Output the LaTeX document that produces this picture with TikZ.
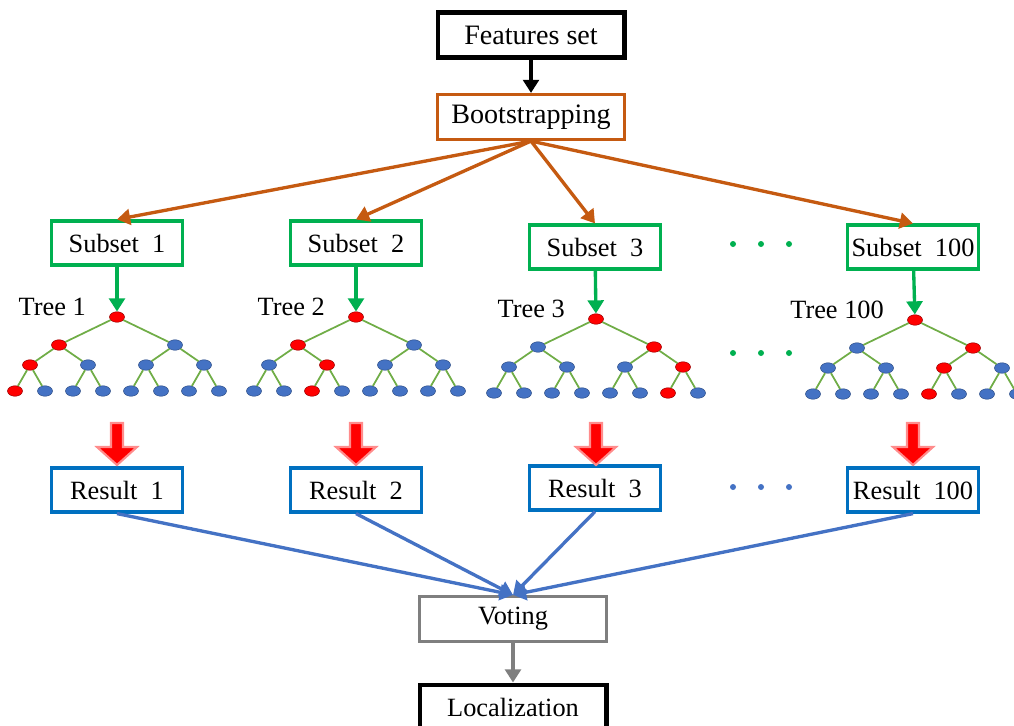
\documentclass[tikz,border=0pt]{standalone}
\usepackage{xcolor}
\usepackage{fontspec}
\setmainfont{Liberation Serif}
\usepackage{tikz}
\usetikzlibrary{shapes.geometric, arrows.meta, positioning, calc}

\definecolor{bootorange}{HTML}{C55A11}
\definecolor{subgreen}{HTML}{00B050}
\definecolor{resblue}{HTML}{0070C0}
\definecolor{nodeblue}{HTML}{4472C4}
\definecolor{edgegreen}{HTML}{70AD47}
\definecolor{votegray}{HTML}{7F7F7F}

\begin{document}
\begin{tikzpicture}[
  x=0.02cm, y=-0.02cm,
  box/.style={rectangle, draw, fill=white, line width=1.8pt, minimum width=2.62cm, minimum height=0.88cm, align=center, inner sep=2pt, font=\fontsize{15}{18}\selectfont},
  bigbox/.style={box, minimum width=3.74cm, minimum height=0.9cm, font=\fontsize{16}{19}\selectfont},
  arr/.style={-{Triangle[length=7.5pt, width=9pt]}, line width=1.9pt},
  leaf/.style={ellipse, fill=nodeblue, draw=nodeblue!70!black, line width=0.3pt, minimum width=0.3cm, minimum height=0.21cm, inner sep=0pt},
  hit/.style={leaf, fill=red, draw=red!60!black},
  branch/.style={edgegreen, line width=1pt},
  dot/.style={circle, fill, inner sep=0pt, minimum size=0.12cm},
  bigarrow/.style={fill=red, draw=red!45, line width=1.2pt},
]
\useasboundingbox (0,0) rectangle (1014,725);

% top of the flow
\node[bigbox, line width=2.3pt] (feat) at (531,35) {Features set};
\node[bigbox, draw=bootorange] (boot) at (531,117) {Bootstrapping};

% subsets and results
\foreach \n/\x/\y in {1/117/243, 2/356/243, 3/595/247, 100/913/247}
  \node[box, draw=subgreen] (sub\n) at (\x,\y) {Subset\enspace\n};
\foreach \n/\x/\y in {1/117/490, 2/356/490, 3/595/488, 100/913/490}
  \node[box, draw=resblue] (res\n) at (\x,\y) {Result\enspace\n};

\node[bigbox, draw=votegray, font=\fontsize{15}{18}\selectfont] (vote) at (513,619) {Voting};
\node[bigbox, line width=2.3pt, font=\fontsize{15}{18}\selectfont] (loc) at (513,707) {Localization};

% the trees, red nodes mark the decision path
\foreach \n/\x/\y/\ra/\rb/\rc in {1/117/317/1/1/1, 2/356/317/1/2/3, 3/596/319/2/4/7, 100/915/320/2/3/5} {
  \node[hit] (t\n-r) at (\x,\y) {};
  \node[anchor=east, font=\fontsize{15}{18}\selectfont] (lab\n) at (\x-25,\y-10) {Tree \n};
  \foreach \i/\dx in {1/-58, 2/58} {
    \ifnum\i=\ra\relax\def\st{hit}\else\def\st{leaf}\fi
    \node[\st] (t\n-a\i) at (\x+\dx,\y+28) {};
    \draw[branch] (t\n-r) -- (t\n-a\i);
  }
  \foreach \j/\dx in {1/-87, 2/-29, 3/29, 4/87} {
    \ifnum\j=\rb\relax\def\st{hit}\else\def\st{leaf}\fi
    \pgfmathtruncatemacro\p{(\j+1)/2}
    \node[\st] (t\n-b\j) at (\x+\dx,\y+48) {};
    \draw[branch] (t\n-a\p) -- (t\n-b\j);
  }
  \foreach \k/\dx in {1/-102, 2/-72, 3/-44, 4/-14, 5/14, 6/44, 7/72, 8/102} {
    \ifnum\k=\rc\relax\def\st{hit}\else\def\st{leaf}\fi
    \pgfmathtruncatemacro\p{(\k+1)/2}
    \node[\st] (t\n-c\k) at (\x+\dx,\y+74) {};
    \draw[branch] (t\n-b\p) -- (t\n-c\k);
  }
  \draw[arr, subgreen] (sub\n) -- (t\n-r);
}

% fat red arrows from trees to results
\foreach \x in {117, 356, 596, 913}
  \filldraw[bigarrow] (\x-6,423) -- (\x+6,423) -- (\x+6,447) -- (\x+20,447)
    -- (\x,465) -- (\x-20,447) -- (\x-6,447) -- cycle;

% ellipsis dots
\foreach \x in {733, 761, 789} {
  \node[dot, subgreen] (gd\x) at (\x,244) {};
  \node[dot, subgreen] (td\x) at (\x,353) {};
  \node[dot, nodeblue] (bd\x) at (\x,487) {};
}

% connectors
\draw[arr] (feat) -- (boot);
\foreach \n in {1, 2, 3, 100} {
  \draw[arr, bootorange] (boot.south) -- (sub\n.north);
  \draw[arr, nodeblue] (res\n.south) -- (vote.north);
}
\draw[arr, votegray] (vote) -- (loc);
\end{tikzpicture}
\end{document}
